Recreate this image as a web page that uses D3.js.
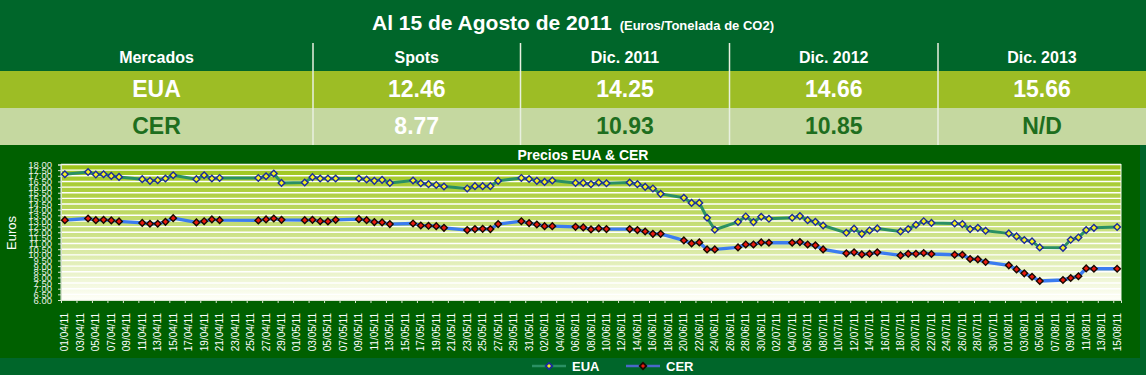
<!DOCTYPE html>
<html>
<head>
<meta charset="utf-8">
<script src="https://cdn.jsdelivr.net/npm/d3@7"></script>
<style>
  body { margin: 0; background: #00662a; }
  svg { display: block; }
</style>
</head>
<body>
<div id="chart"></div>
<script>
// table
const columns = ["Mercados", "Spots", "Dic. 2011", "Dic. 2012", "Dic. 2013"];
const euaRow = ["EUA", "12.46", "14.25", "14.66", "15.66"];
const cerRow = ["CER", "8.77", "10.93", "10.85", "N/D"];

// series (trading days)
const dates = [
  "01/04/11","04/04/11","05/04/11","06/04/11","07/04/11","08/04/11","11/04/11","12/04/11","13/04/11","14/04/11",
  "15/04/11","18/04/11","19/04/11","20/04/11","21/04/11","26/04/11","27/04/11","28/04/11","29/04/11",
  "02/05/11","03/05/11","04/05/11","05/05/11","06/05/11","09/05/11","10/05/11","11/05/11","12/05/11","13/05/11",
  "16/05/11","17/05/11","18/05/11","19/05/11","20/05/11","23/05/11","24/05/11","25/05/11","26/05/11","27/05/11",
  "30/05/11","31/05/11",
  "01/06/11","02/06/11","03/06/11","06/06/11","07/06/11","08/06/11","09/06/11","10/06/11","13/06/11","14/06/11",
  "15/06/11","16/06/11","17/06/11","20/06/11","21/06/11","22/06/11","23/06/11","24/06/11","27/06/11","28/06/11",
  "29/06/11","30/06/11",
  "01/07/11","04/07/11","05/07/11","06/07/11","07/07/11","08/07/11","11/07/11","12/07/11","13/07/11","14/07/11",
  "15/07/11","18/07/11","19/07/11","20/07/11","21/07/11","22/07/11","25/07/11","26/07/11","27/07/11","28/07/11",
  "29/07/11",
  "01/08/11","02/08/11","03/08/11","04/08/11","05/08/11","08/08/11","09/08/11","10/08/11","11/08/11","12/08/11",
  "15/08/11"
];
const eua = [
  17.14,17.34,17.11,17.14,16.99,16.90,16.70,16.55,16.61,16.76,17.05,16.70,17.05,16.76,16.81,16.81,16.96,17.20,16.37,
  16.41,16.88,16.76,16.76,16.76,16.76,16.67,16.55,16.64,16.37,16.58,16.34,16.26,16.19,16.05,15.88,16.08,16.08,16.08,16.55,16.81,16.72,
  16.55,16.46,16.58,16.37,16.37,16.26,16.41,16.34,16.41,16.26,16.02,15.88,15.40,15.05,14.60,14.60,13.28,12.22,12.92,13.40,12.90,13.37,
  13.19,13.28,13.43,13.07,12.92,12.60,11.95,12.32,11.86,12.16,12.34,12.07,12.28,12.66,12.98,12.83,12.78,12.72,12.28,12.39,12.13,
  11.90,11.63,11.31,11.19,10.66,10.62,11.33,11.54,12.19,12.39,12.46
];
const cer = [
  13.07,13.22,13.07,13.10,13.05,12.96,12.83,12.75,12.75,12.92,13.25,12.87,12.98,13.14,13.07,13.05,13.14,13.22,13.10,
  13.07,13.10,12.98,12.96,13.10,13.16,13.07,12.90,12.87,12.72,12.78,12.60,12.57,12.54,12.39,12.19,12.28,12.30,12.28,12.72,12.98,12.81,
  12.69,12.54,12.54,12.48,12.43,12.25,12.34,12.28,12.28,12.19,12.07,11.86,11.86,11.28,11.01,11.10,10.48,10.48,10.66,10.92,10.92,11.10,
  11.07,11.07,11.13,10.92,10.84,10.48,10.13,10.22,10.04,10.09,10.22,9.95,10.09,10.09,10.16,10.07,10.01,10.01,9.63,9.60,9.36,
  9.07,8.71,8.36,8.06,7.68,7.77,7.95,8.10,8.80,8.77,8.77
];

const width = 1146, height = 375;
const font = "'Liberation Sans', Arial, sans-serif";
const narrow = "'Liberation Sans Narrow', 'Arial Narrow', 'Liberation Sans', sans-serif";

const svg = d3.select("#chart").append("svg")
  .attr("width", width)
  .attr("height", height)
  .attr("font-family", font);

// ---- header table ----
svg.append("rect").attr("width", width).attr("height", 71).attr("fill", "#00662a");
svg.append("rect").attr("y", 71).attr("width", width).attr("height", 37).attr("fill", "#9dbd25");
svg.append("rect").attr("y", 108).attr("width", width).attr("height", 37).attr("fill", "#c5d8a0");

const title = svg.append("text")
  .attr("x", 573).attr("y", 30)
  .attr("text-anchor", "middle")
  .attr("fill", "white")
  .attr("font-weight", "bold");
title.append("tspan").attr("font-size", 21).text("Al 15 de Agosto de 2011");
title.append("tspan").attr("font-size", 13).attr("dx", 8).text("(Euros/Tonelada de CO2)");

const colEdges = [0, 313, 520.5, 729.5, 938, 1146];
const colX = d3.range(5).map(i => (colEdges[i] + colEdges[i + 1]) / 2);

svg.selectAll("line.sep")
  .data(colEdges.slice(1, -1))
  .join("line")
  .attr("x1", d => d).attr("x2", d => d)
  .attr("y1", 43).attr("y2", 145)
  .attr("stroke", "#e8f0e0").attr("stroke-width", 1.5);

svg.selectAll("text.head")
  .data(columns)
  .join("text")
  .attr("x", (d, i) => colX[i]).attr("y", 63)
  .attr("text-anchor", "middle")
  .attr("fill", "white").attr("font-weight", "bold").attr("font-size", 16)
  .text(d => d);

svg.selectAll("text.eua")
  .data(euaRow)
  .join("text")
  .attr("x", (d, i) => colX[i]).attr("y", 97)
  .attr("text-anchor", "middle")
  .attr("fill", "white").attr("font-weight", "bold").attr("font-size", 23)
  .text(d => d);

svg.selectAll("text.cer")
  .data(cerRow)
  .join("text")
  .attr("x", (d, i) => colX[i]).attr("y", 134)
  .attr("text-anchor", "middle")
  .attr("fill", (d, i) => i === 1 ? "white" : "#1e6e1e")
  .attr("font-weight", "bold").attr("font-size", 23)
  .text(d => d);

// ---- chart ----
svg.append("rect").attr("y", 145).attr("width", 1140).attr("height", 213).attr("fill", "#006000");

const parse = d3.utcParse("%d/%m/%y");
const days = dates.map(parse);
const start = days[0], end = days[days.length - 1];
const half = 12 * 3600 * 1000;

const plotLeft = 61, plotRight = 1121, plotTop = 164.5, plotBottom = 300;

const x = d3.scaleUtc()
  .domain([new Date(+start - half), new Date(+end + half)])
  .range([plotLeft, plotRight]);
const y = d3.scaleLinear().domain([6, 18]).range([plotBottom, plotTop]);

const defs = svg.append("defs");
const grad = defs.append("linearGradient")
  .attr("id", "plotbg").attr("x1", 0).attr("y1", 0).attr("x2", 0).attr("y2", 1);
grad.append("stop").attr("offset", "0%").attr("stop-color", "#9cc417");
grad.append("stop").attr("offset", "45%").attr("stop-color", "#c6de78");
grad.append("stop").attr("offset", "100%").attr("stop-color", "#fffffa");

svg.append("rect")
  .attr("x", plotLeft).attr("y", plotTop)
  .attr("width", plotRight - plotLeft).attr("height", plotBottom - plotTop)
  .attr("fill", "url(#plotbg)");

const yTicks = d3.range(6, 18.001, 0.5);
svg.append("g")
  .selectAll("line")
  .data(yTicks)
  .join("line")
  .attr("x1", plotLeft).attr("x2", plotRight)
  .attr("y1", d => y(d)).attr("y2", d => y(d))
  .attr("stroke", "white").attr("stroke-width", 1.4);

svg.append("rect")
  .attr("x", plotLeft).attr("y", plotTop)
  .attr("width", plotRight - plotLeft).attr("height", plotBottom - plotTop)
  .attr("fill", "none").attr("stroke", "#f4f8ec").attr("stroke-width", 1);

svg.append("text")
  .attr("x", 583).attr("y", 160)
  .attr("text-anchor", "middle")
  .attr("fill", "white").attr("font-weight", "bold").attr("font-size", 14)
  .attr("font-family", narrow)
  .text("Precios EUA & CER");

svg.append("text")
  .attr("transform", "translate(16,233) rotate(-90)")
  .attr("text-anchor", "middle")
  .attr("fill", "white").attr("font-size", 13)
  .text("Euros");

// y axis (labels crowd each other, as in the original)
const yAxis = svg.append("g")
  .attr("transform", `translate(${plotLeft},0)`)
  .call(d3.axisLeft(y).tickValues(yTicks).tickFormat(d3.format(".2f")).tickSize(3).tickPadding(6));
yAxis.select(".domain").attr("stroke", "#d8e4d0");
yAxis.selectAll(".tick line").attr("stroke", "#d8e4d0");
yAxis.selectAll("text").attr("fill", "#e8efe4").attr("font-size", 9.5).attr("font-family", font);

// x axis: ticks on day boundaries every 2 days, labels on the days
const labelDays = d3.range(0, d3.utcDay.count(start, end) + 1, 2).map(i => d3.utcDay.offset(start, i));
const xTicks = svg.append("g")
  .attr("transform", `translate(0,${plotBottom})`)
  .call(d3.axisBottom(x).tickValues(labelDays.map(d => new Date(+d - half))).tickFormat("").tickSize(3));
xTicks.select(".domain").attr("stroke", "#d8e4d0");
xTicks.selectAll(".tick line").attr("stroke", "#d8e4d0");

const fmt = d3.utcFormat("%d/%m/%y");
svg.append("g")
  .selectAll("text")
  .data(labelDays)
  .join("text")
  .attr("transform", d => `translate(${x(d)},313) rotate(-90)`)
  .attr("text-anchor", "end")
  .attr("dy", "0.35em")
  .attr("fill", "white").attr("font-size", 10)
  .text(d => fmt(d));

// lines
const line = d3.line().x((d, i) => x(days[i])).y(d => y(d));

svg.append("path").datum(eua)
  .attr("d", line).attr("fill", "none")
  .attr("stroke", "#2a9064").attr("stroke-width", 3).attr("stroke-linejoin", "round");
svg.append("path").datum(cer)
  .attr("d", line).attr("fill", "none")
  .attr("stroke", "#3b7cf0").attr("stroke-width", 3.4).attr("stroke-linejoin", "round");

// small square markers turned 45 degrees
const marker = d3.symbol().type(d3.symbolSquare).size(22);

svg.append("g").selectAll("path")
  .data(eua)
  .join("path")
  .attr("transform", (d, i) => `translate(${x(days[i])},${y(d)}) rotate(45)`)
  .attr("d", marker)
  .attr("fill", "#f4f020").attr("stroke", "#1c2a9c").attr("stroke-width", 1.4);

svg.append("g").selectAll("path")
  .data(cer)
  .join("path")
  .attr("transform", (d, i) => `translate(${x(days[i])},${y(d)}) rotate(45)`)
  .attr("d", marker)
  .attr("fill", "#e81a10").attr("stroke", "#1a0a00").attr("stroke-width", 1.4);

// legend
const legend = [
  { name: "EUA", x: 532, line: "#2a9064", fill: "#f4f020", stroke: "#1c2a9c" },
  { name: "CER", x: 626, line: "#4a68c8", fill: "#e81a10", stroke: "#1a0a00" }
];
const lg = svg.append("g").selectAll("g")
  .data(legend)
  .join("g")
  .attr("transform", d => `translate(${d.x},366)`);
lg.append("line").attr("x1", 0).attr("x2", 34)
  .attr("stroke", d => d.line).attr("stroke-width", 2.5);
lg.append("path").attr("transform", "translate(17,0) rotate(45)").attr("d", marker)
  .attr("fill", d => d.fill).attr("stroke", d => d.stroke).attr("stroke-width", 1.8);
lg.append("text").attr("x", 40).attr("y", 4.5)
  .attr("fill", "white").attr("font-weight", "bold").attr("font-size", 13)
  .attr("font-family", narrow)
  .text(d => d.name);
</script>
</body>
</html>
